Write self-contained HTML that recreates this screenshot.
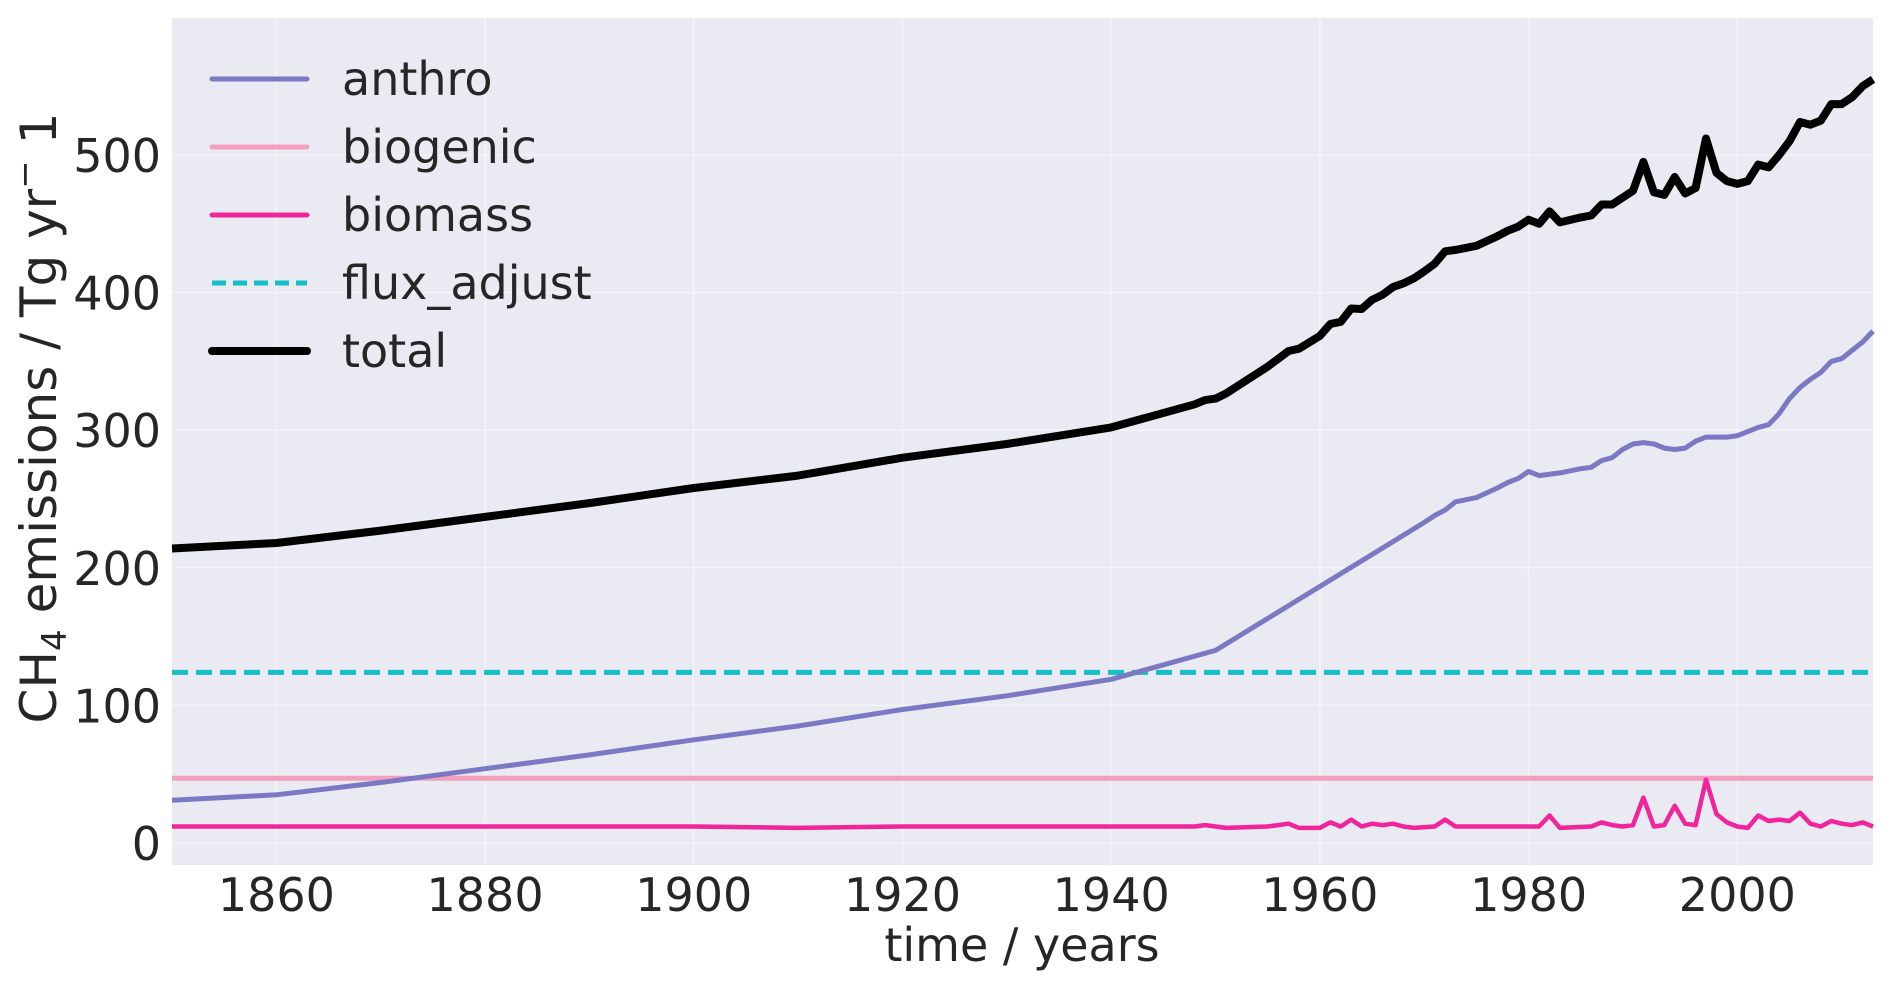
<!DOCTYPE html>
<html><head><meta charset="utf-8"><style>
html,body{margin:0;padding:0;background:#fff}
svg{display:block}
text{font-family:"DejaVu Sans","Liberation Sans",sans-serif;fill:#262626}
</style></head><body>
<svg id="chart" width="1892" height="991" viewBox="0 0 1892 991" xmlns="http://www.w3.org/2000/svg">
<rect x="172" y="18" width="1701" height="847" fill="#eaeaf2"/>
<g id="grid"></g>
<g id="series"></g>
<g id="ticks"></g>
<text x="1022" y="961" font-size="46" text-anchor="middle">time / years</text>
<text transform="translate(56,418) rotate(-90)" font-size="50" text-anchor="middle">CH<tspan font-size="34" dy="10">4</tspan><tspan dy="-10"> emissions / Tg yr</tspan><tspan dy="-20" font-size="34">−</tspan><tspan dy="20"> 1</tspan></text>
<g id="legend"></g>
</svg>
<script>
const xTicks=[1860,1880,1900,1920,1940,1960,1980,2000];
const yTicks=[0,100,200,300,400,500];
const anthroYears=[1850,1860,1870,1880,1890,1900,1910,1920,1930,1940,1950,1970,1971,1972,1973,1975,1977,1978,1979,1980,1981,1983,1985,1986,1987,1988,1989,1990,1991,1992,1993,1994,1995,1996,1997,1998,1999,2000,2001,2002,2003,2004,2005,2006,2007,2008,2009,2010,2011,2012,2013];
const anthroValues=[31,35,44,54,64,75,85,97,107,119,140,233,238,242,248,251,258,262,265,270,267,269,272,273,278,280,286,290,291,290,287,286,287,292,295,295,295,296,299,302,304,312,323,331,337,342,350,352,358,364,372];
const biomassYears=[1850,1860,1870,1880,1890,1900,1910,1920,1930,1940,1948,1949,1950,1951,1955,1956,1957,1958,1960,1961,1962,1963,1964,1965,1966,1967,1968,1969,1971,1972,1973,1976,1980,1981,1982,1983,1986,1987,1988,1989,1990,1991,1992,1993,1994,1995,1996,1997,1998,1999,2000,2001,2002,2003,2004,2005,2006,2007,2008,2009,2010,2011,2012,2013];
const biomassValues=[12,12,12,12,12,12,11,12,12,12,12,13,12,11,12,13,14,11,11,15,12,17,12,14,13,14,12,11,12,17,12,12,12,12,20,11,12,15,13,12,13,33,12,13,27,14,13,46,21,15,12,11,20,16,17,16,22,14,12,16,14,13,15,12];
const biogenicValue=47;
const fluxValue=124;
const seriesNames=["anthro","biogenic","biomass","flux_adjust","total"];

const X0=172,X1=1873,XMIN=1850,XMAX=2013;
const Y0=843,YPER=1.376;
const sx=v=>X0+(v-XMIN)/(XMAX-XMIN)*(X1-X0);
const sy=v=>Y0-v*YPER;
const NS="http://www.w3.org/2000/svg";
function mk(tag,attrs,parent){const e=document.createElementNS(NS,tag);for(const k in attrs)e.setAttribute(k,attrs[k]);parent.appendChild(e);return e;}
function interp(xs,ys,x){if(x<=xs[0])return ys[0];for(let i=1;i<xs.length;i++){if(x<=xs[i]){const t=(x-xs[i-1])/(xs[i]-xs[i-1]);return ys[i-1]+t*(ys[i]-ys[i-1]);}}return ys[ys.length-1];}

const grid=document.getElementById('grid'),ticks=document.getElementById('ticks'),ser=document.getElementById('series');
xTicks.forEach(t=>{
 const l=mk('line',{x1:sx(t),x2:sx(t),y1:18,y2:865,stroke:'#fff','stroke-width':1.5,'stroke-opacity':0.45},grid);
 
 
 const tx=mk('text',{x:sx(t),y:911,'font-size':46,'text-anchor':'middle'},ticks);
 tx.textContent=t;
 
 
});
yTicks.forEach(t=>{
 const l=mk('line',{x1:172,x2:1873,y1:sy(t),y2:sy(t),stroke:'#fff','stroke-width':1.5,'stroke-opacity':0.45},grid);
 
 
 const tx=mk('text',{x:161,y:sy(t)+17,'font-size':46,'text-anchor':'end'},ticks);
 tx.textContent=t;
 
 
});
function path(xs,ys){return xs.map((x,i)=>(i?'L':'M')+sx(x).toFixed(1)+','+sy(ys[i]).toFixed(1)).join('');}
let p=mk('path',{d:path([XMIN,XMAX],[biogenicValue,biogenicValue]),stroke:'#f4a0bd',fill:'none','stroke-width':5},ser);


p=mk('path',{d:path([XMIN,XMAX],[fluxValue,fluxValue]),stroke:'#17bec8',fill:'none','stroke-width':5,'stroke-dasharray':'16,8'},ser);


p=mk('path',{d:path(anthroYears,anthroValues),stroke:'#7b78c4',fill:'none','stroke-width':5,'stroke-linejoin':'round'},ser);


p=mk('path',{d:path(biomassYears,biomassValues),stroke:'#f0249b',fill:'none','stroke-width':4.5,'stroke-linejoin':'round'},ser);


const allYears=[...new Set([...anthroYears,...biomassYears])].sort((a,b)=>a-b);
const totalValues=allYears.map(y=>interp(anthroYears,anthroValues,y)+interp(biomassYears,biomassValues,y)+biogenicValue+fluxValue);
p=mk('path',{d:path(allYears,totalValues),stroke:'#000',fill:'none','stroke-width':8,'stroke-linejoin':'round'},ser);


const lg=document.getElementById('legend');
const lgStyles=[['#7b78c4',5,''],['#f4a0bd',5,''],['#f0249b',5,''],['#17bec8',5,'14,7'],['#000',8,'']];
seriesNames.forEach((n,i)=>{
 const y=79+i*68;
 const l=mk('line',{x1:212,x2:307,y1:y,y2:y,stroke:lgStyles[i][0],'stroke-width':lgStyles[i][1],'stroke-linecap':lgStyles[i][2]?'butt':'round'},lg);
 if(lgStyles[i][2])l.setAttribute('stroke-dasharray',lgStyles[i][2]);
 
 
 const t=mk('text',{x:342,y:y+16,'font-size':46},lg);
 t.textContent=n;
 
 
});
</script>
</body></html>
